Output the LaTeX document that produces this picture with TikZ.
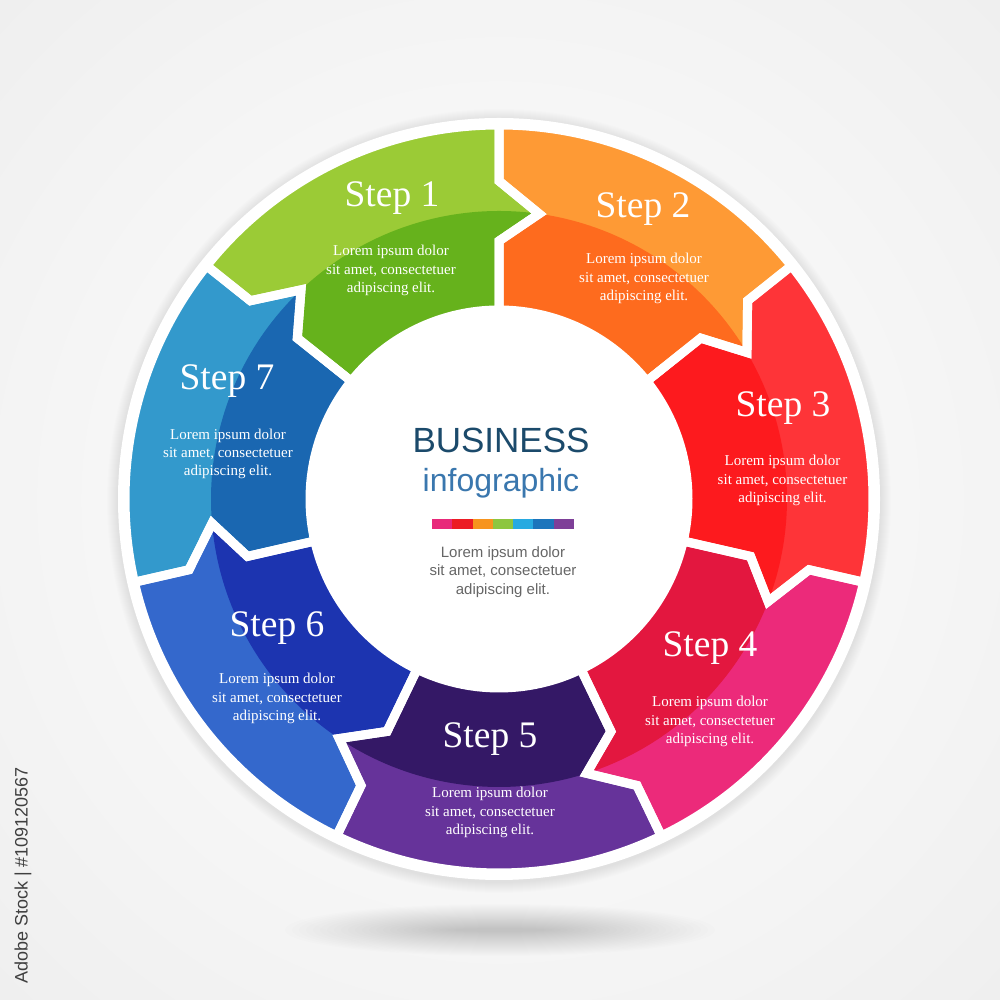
\documentclass[tikz,border=0pt]{standalone}
\usepackage{fontspec}
\setmainfont{Liberation Serif}
\newfontfamily\sansf{Liberation Sans}
\definecolor{bgout}{HTML}{DDDDDD}
\definecolor{lA}{HTML}{9BCB36}\definecolor{dA}{HTML}{66B21C}
\definecolor{lB}{HTML}{FE9A35}\definecolor{dB}{HTML}{FE6B1E}
\definecolor{lC}{HTML}{FE3438}\definecolor{dC}{HTML}{FD1A1E}
\definecolor{lD}{HTML}{EC2A7A}\definecolor{dD}{HTML}{E3173F}
\definecolor{lE}{HTML}{66339A}\definecolor{dE}{HTML}{341866}
\definecolor{lF}{HTML}{3468CC}\definecolor{dF}{HTML}{1C34B0}
\definecolor{lG}{HTML}{3399CC}\definecolor{dG}{HTML}{1A67B1}
\definecolor{barA}{HTML}{E8297A}\definecolor{barB}{HTML}{EC1C24}
\definecolor{barC}{HTML}{F7941E}\definecolor{barD}{HTML}{8DC63F}
\definecolor{barE}{HTML}{27AAE1}\definecolor{barF}{HTML}{1C75BC}
\definecolor{barG}{HTML}{7E3F98}
\definecolor{bizdark}{HTML}{1B4A6B}
\definecolor{bizlight}{HTML}{3A77AE}
\definecolor{greytext}{HTML}{666666}
\definecolor{wmark}{HTML}{3F3F3F}
\tikzset{
  steptitle/.style={text=white, inner sep=0pt, anchor=base,
    font=\fontsize{37.5}{40}\selectfont},
  steptext/.style={text=white, inner sep=0pt, align=center,
    font=\fontsize{15}{18.3}\selectfont},
  gapline/.style={draw=white, line width=9, line join=miter},
}
\begin{document}
\begin{tikzpicture}[x=1pt,y=1pt]
\useasboundingbox (0,0) rectangle (1000,1000);
% background
\shade[inner color=white, outer color=bgout] (-1000,-1000) rectangle (2000,2000);
% bottom shadow
\foreach \s in {1,...,25}
  \fill[black, opacity=0.0075] (500,70) ellipse [x radius=40+7*\s, y radius=1+1.0*\s];
% faint ring shadow
\foreach \r in {382,...,392}
  \fill[black, opacity=0.006] (499,499) circle (\r);
% white ring
\fill[white] (499,501) circle (381);
% segments
\begin{scope}[shift={(499,501)}]
\foreach \k/\lc/\dc in {1/lA/dA,2/lB/dB,3/lC/dC,4/lD/dD,5/lE/dE,6/lF/dF,7/lG/dG}{
  \pgfmathsetmacro\aa{141.4286-(\k-1)*51.4286}
  \pgfmathsetmacro\ab{\aa-51.4286}
  \pgfmathsetmacro\aad{\aa-8}
  \pgfmathsetmacro\abd{\ab-8}
  \fill[\lc] (\aa:374) arc[start angle=\aa, end angle=\ab, radius=374]
    -- (\ab:318) -- (\abd:288) -- (\ab:258) -- (\ab:189)
    arc[start angle=\ab, end angle=\aa, radius=189]
    -- (\aa:258) -- (\aad:288) -- (\aa:318) -- cycle;
  \fill[\dc] (\abd:288) -- (\ab:258) -- (\ab:189)
    arc[start angle=\ab, end angle=\aa, radius=189]
    -- (\aa:258) -- (\aad:288)
    arc[start angle=\aad, end angle=\abd, radius=288] -- cycle;
}
\foreach \k in {1,...,7}{
  \pgfmathsetmacro\aa{141.4286-(\k-1)*51.4286}
  \pgfmathsetmacro\ab{\aa-51.4286}
  \pgfmathsetmacro\aad{\aa-8}
  \pgfmathsetmacro\abd{\ab-8}
  \path[gapline] (\aa:374) arc[start angle=\aa, end angle=\ab, radius=374]
    -- (\ab:318) -- (\abd:288) -- (\ab:258) -- (\ab:189)
    arc[start angle=\ab, end angle=\aa, radius=189]
    -- (\aa:258) -- (\aad:288) -- (\aa:318) -- cycle;
}
\fill[white] (0,0) circle (191);
\end{scope}
% step labels
\node[steptitle] (t1) at (392,793) {Step 1};
\node[steptext] (x1) at (391,729.5) {Lorem ipsum dolor\\sit amet, consectetuer\\adipiscing elit.};
\node[steptitle] (t2) at (643,782) {Step 2};
\node[steptext] (x2) at (644,721.5) {Lorem ipsum dolor\\sit amet, consectetuer\\adipiscing elit.};
\node[steptitle] (t3) at (783,583) {Step 3};
\node[steptext] (x3) at (782.5,519.5) {Lorem ipsum dolor\\sit amet, consectetuer\\adipiscing elit.};
\node[steptitle] (t4) at (710,343) {Step 4};
\node[steptext] (x4) at (710,278.5) {Lorem ipsum dolor\\sit amet, consectetuer\\adipiscing elit.};
\node[steptitle] (t5) at (490,252) {Step 5};
\node[steptext] (x5) at (490,187.5) {Lorem ipsum dolor\\sit amet, consectetuer\\adipiscing elit.};
\node[steptitle] (t6) at (277,363) {Step 6};
\node[steptext] (x6) at (277,301.5) {Lorem ipsum dolor\\sit amet, consectetuer\\adipiscing elit.};
\node[steptitle] (t7) at (227,610) {Step 7};
\node[steptext] (x7) at (228,546) {Lorem ipsum dolor\\sit amet, consectetuer\\adipiscing elit.};
% centre
\node[inner sep=0pt, anchor=base, text=bizdark, font=\sansf\fontsize{35}{38}\selectfont] (biz) at (501,547.3) {BUSINESS};
\node[inner sep=0pt, anchor=base, text=bizlight, font=\sansf\fontsize{32}{35}\selectfont] (info) at (501,508.3) {infographic};
\foreach \i/\c in {0/barA,1/barB,2/barC,3/barD,4/barE,5/barF,6/barG}
  \fill[\c] (432+\i*20.29,471) rectangle ++(20.29,10);
\node[inner sep=0pt, align=center, text=greytext, font=\sansf\fontsize{15}{18.3}\selectfont] (ctext) at (503,428) {Lorem ipsum dolor\\sit amet, consectetuer\\adipiscing elit.};
% side credit
\node[inner sep=0pt, rotate=90, text=wmark, font=\sansf\fontsize{18}{20}\selectfont] (credit) at (23,124.5) {Adobe Stock | \#109120567};
\end{tikzpicture}
\end{document}
